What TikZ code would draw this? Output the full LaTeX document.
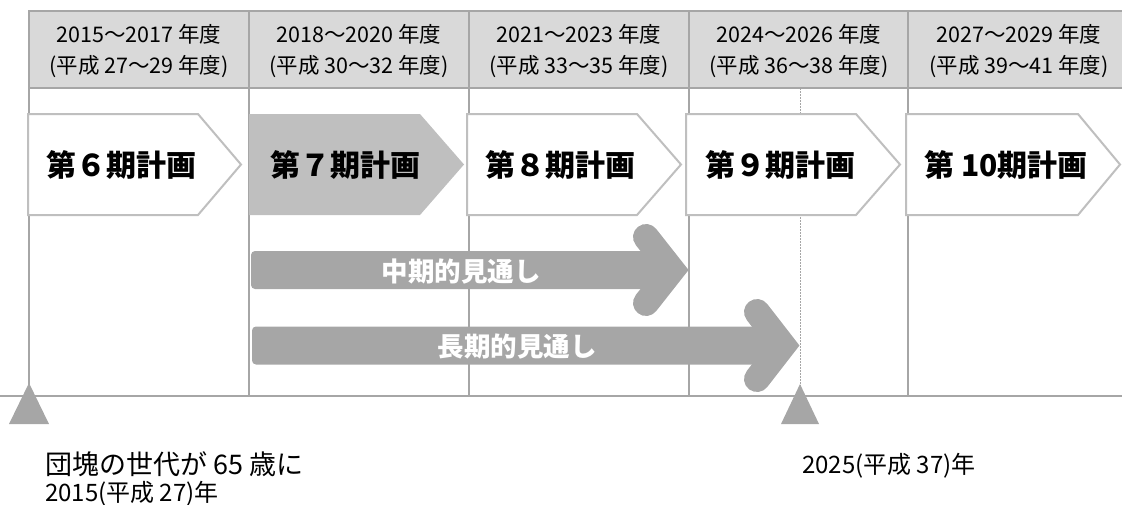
\documentclass[tikz,border=0pt]{standalone}
\usepackage{fontspec}
\setmainfont{Noto Sans CJK JP}
\newfontfamily\jp{Noto Sans CJK JP}
\definecolor{hdrfill}{HTML}{D9D9D9}
\definecolor{gridgray}{HTML}{A6A6A6}
\definecolor{chevgray}{HTML}{BFBFBF}
\definecolor{arrgray}{HTML}{A6A6A6}
\begin{document}
\begin{tikzpicture}[x=1pt,y=-1pt,
  gridline/.style={draw=gridgray,line width=2pt},
  dotline/.style={draw=gridgray,line width=1pt,dash pattern=on 2pt off 1pt},
  chevwhite/.style={draw=chevgray,line width=2pt,fill=white},
  chevfill/.style={fill=chevgray},
  hdrtext/.style={font=\jp\fontsize{21.5}{31}\selectfont,align=center,inner sep=0pt},
  plantext/.style={font=\jp\bfseries\fontsize{30}{30}\selectfont,anchor=west,inner sep=0pt},
  arrtext/.style={font=\jp\bfseries\fontsize{26.5}{26}\selectfont,text=white,inner sep=0pt},
  arrbody/.style={fill=arrgray,rounded corners=4pt},
  arrhead/.style={draw=arrgray,line width=26pt,line cap=round,line join=miter},
  marker/.style={fill=arrgray},
  note/.style={font=\jp\fontsize{27}{27}\selectfont,anchor=west,inner sep=0pt},
  notesmall/.style={font=\jp\fontsize{24}{24}\selectfont,anchor=west,inner sep=0pt}]
\useasboundingbox (0,0) rectangle (1122,504);
% header band
\fill[hdrfill] (29,11) rectangle (1122,88);
\draw[gridline] (1122,11) -- (29,11) -- (29,396);
\draw[gridline] (29,88) -- (1122,88);
\foreach \x in {249,469,689,908} {\draw[gridline] (\x,11) -- (\x,396);}
\draw[gridline] (0,396) -- (1122,396);
\draw[dotline] (800,88) -- (800,396);
% header texts
\node[hdrtext] (h1) at (139,51.5) {2015～2017 年度\\(平成 27～29 年度)};
\node[hdrtext] (h2) at (359,51.5) {2018～2020 年度\\(平成 30～32 年度)};
\node[hdrtext] (h3) at (579,51.5) {2021～2023 年度\\(平成 33～35 年度)};
\node[hdrtext] (h4) at (799,51.5) {2024～2026 年度\\(平成 36～38 年度)};
\node[hdrtext] (h5) at (1019,51.5) {2027～2029 年度\\(平成 39～41 年度)};
% chevrons
\draw[chevwhite] (28,114) -- (198,114) -- (241,164.5) -- (198,215) -- (28,215) -- cycle;
\fill[chevfill] (249,114) -- (420,114) -- (464,164.5) -- (420,215) -- (249,215) -- cycle;
\draw[chevwhite] (467,114) -- (637,114) -- (681,164.5) -- (637,215) -- (467,215) -- cycle;
\draw[chevwhite] (686,114) -- (856,114) -- (900,164.5) -- (856,215) -- (686,215) -- cycle;
\draw[chevwhite] (906,114) -- (1078,114) -- (1120,164.5) -- (1078,215) -- (906,215) -- cycle;
\node[plantext] (p6) at (46,165) {第６期計画};
\node[plantext] (p7) at (270,165) {第７期計画};
\node[plantext] (p8) at (485,165) {第８期計画};
\node[plantext] (p9) at (705,165) {第９期計画};
\node[plantext] (p10) at (924,165) {第 10期計画};
% arrows
\fill[arrbody] (251,251) rectangle (672,289);
\draw[arrhead] (646,237) -- (672,270) -- (646,303);
\node[arrtext] (mid) at (461,272) {中期的見通し};
\fill[arrbody] (252,326.5) rectangle (783,364.5);
\draw[arrhead] (757,312) -- (783,345.5) -- (757,379);
\node[arrtext] (long) at (517,347) {長期的見通し};
% markers
\fill[marker] (29,383) -- (49,424) -- (9,424) -- cycle;
\fill[marker] (800,384) -- (819,424) -- (781,424) -- cycle;
% notes
\node[note] (n1) at (45,464) {団塊の世代が 65 歳に};
\node[notesmall] (n2) at (45,494) {2015(平成 27)年};
\node[notesmall] (n3) at (802,466) {2025(平成 37)年};
\end{tikzpicture}
\end{document}
